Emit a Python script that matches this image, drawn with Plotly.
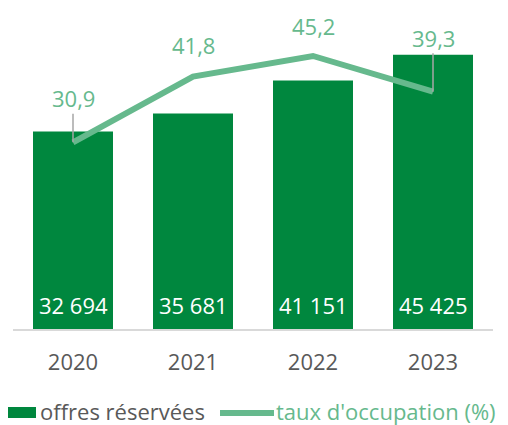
import plotly.graph_objects as go

years = ["2020", "2021", "2022", "2023"]
offres = [32694, 35681, 41151, 45425]
taux = [30.9, 41.8, 45.2, 39.3]

BAR = "#00873E"
LINE = "#66B98D"
GRAY = "#595959"
FONT = "Open Sans"
FS = 22

fig = go.Figure()
fig.add_trace(go.Bar(x=years, y=offres, name="offres réservées",
                     marker=dict(color=BAR, line=dict(width=0)),
                     hoverinfo="skip", showlegend=False))
fig.add_trace(go.Scatter(x=years, y=taux, name="taux d'occupation (%)", yaxis="y2",
                         mode="lines", line=dict(color=LINE, width=6),
                         hoverinfo="skip", showlegend=False))

# bar value labels (inside, near base); category axis -> serial index
for i, v in enumerate(offres):
    fig.add_annotation(x=i, y=0, xref="x", yref="y", text=f"{v:,}".replace(",", " "),
                       showarrow=False, yanchor="bottom", yshift=7,
                       font=dict(family=FONT, size=FS, color="white"))

# line value labels
label_offsets = [44, 32, 30, 54]
leader = [True, False, False, True]
for i, (v, off, ld) in enumerate(zip(taux, label_offsets, leader)):
    txt = f"{v:.1f}".replace(".", ",")
    if ld:
        fig.add_annotation(x=i, y=v, xref="x", yref="y2", text=txt, showarrow=True,
                           arrowhead=0, arrowwidth=1.5, arrowcolor="#A6A6A6",
                           ax=0, ay=-off, standoff=0, borderpad=0,
                           font=dict(family=FONT, size=FS, color=LINE))
    else:
        fig.add_annotation(x=i, y=v, xref="x", yref="y2", text=txt, showarrow=False,
                           yshift=off, font=dict(family=FONT, size=FS, color=LINE))

# custom legend (paper coords; plot area spans page x 13..493, y 27..329)
LY = -(411 - 329) / 302
fig.add_shape(type="rect", xref="paper", yref="paper", x0=-13/480, x1=(36-13)/480,
              y0=-(407-329)/302, y1=-(418-329)/302, fillcolor=BAR, line=dict(width=0))
fig.add_annotation(xref="paper", yref="paper", x=(38-13)/480, y=LY,
                   xanchor="left", yanchor="middle", showarrow=False,
                   text="offres réservées", font=dict(family=FONT, size=FS, color=GRAY))
fig.add_shape(type="line", xref="paper", yref="paper", x0=(220-13)/480, x1=(274-13)/480,
              y0=-(413-329)/302, y1=-(413-329)/302, line=dict(color=LINE, width=6))
fig.add_annotation(xref="paper", yref="paper", x=(274-13)/480, y=LY,
                   xanchor="left", yanchor="middle", showarrow=False,
                   text="taux d'occupation (%)", font=dict(family=FONT, size=FS, color=LINE))

fig.update_layout(
    width=500, height=417,
    margin=dict(l=5, r=15, t=19, b=96, autoexpand=False),
    paper_bgcolor="white", plot_bgcolor="white",
    bargap=1/3,
    font=dict(family=FONT, size=FS, color=GRAY),
    xaxis=dict(type="category", range=[-0.5, 3.5], automargin=False,
               showline=True, linecolor="#D9D9D9", linewidth=1.5, ticks="",
               tickfont=dict(family=FONT, size=FS, color=GRAY), ticklabelstandoff=13,
               showgrid=False, zeroline=False, fixedrange=True),
    yaxis=dict(range=[0, 50000], visible=False, showgrid=False, zeroline=False),
    yaxis2=dict(range=[0, 50], overlaying="y", visible=False, showgrid=False, zeroline=False),
    showlegend=False,
)
fig.write_html("out.html")
